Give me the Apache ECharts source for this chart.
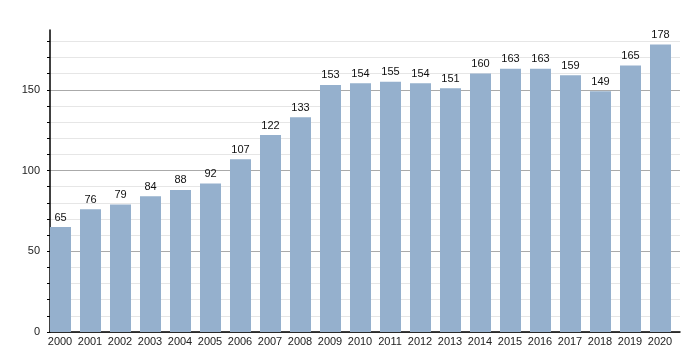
<!DOCTYPE html>
<html><head><meta charset="utf-8">
<script src="https://cdn.jsdelivr.net/npm/echarts@6/dist/echarts.min.js"></script>
<style>html,body{margin:0;padding:0;background:#fff}#c{width:700px;height:350px}</style>
</head><body><div id="c"></div>
<script>
const years = ['2000','2001','2002','2003','2004','2005','2006','2007','2008','2009','2010','2011','2012','2013','2014','2015','2016','2017','2018','2019','2020'];
const values = [65,76,79,84,88,92,107,122,133,153,154,155,154,151,160,163,163,159,149,165,178];
const yTickLabels = [0,50,100,150];
const yTicks = [0,10,20,30,40,50,60,70,80,90,100,110,120,130,140,150,160,170,180];

const gridColors = [];
for (let i = 0; i < 20; i++) gridColors.push(i % 5 === 0 ? '#aaaaaa' : '#e6e6e6');
gridColors[19] = 'rgba(0,0,0,0)';

const chart = echarts.init(document.getElementById('c'), null, {renderer:'canvas'});
chart.setOption({
  animation: false,
  grid: {left: 50, top: 30, width: 630, bottom: 18, containLabel: false},
  xAxis: {
    type: 'category', data: years,
    axisLine: {show: true, lineStyle: {color: '#000', width: 1.5}},
    axisTick: {show: false},
    axisLabel: {color: '#222', fontSize: 11, fontFamily: 'Liberation Sans, Arial, sans-serif', margin: 4, padding: [0, 10, 0, 0], interval: 0}
  },
  yAxis: {
    type: 'value', min: 0, max: 187, interval: 10,
    axisLine: {show: true, lineStyle: {color: '#000', width: 1.5}},
    axisTick: {show: true, length: 3, inside: false, customValues: yTicks, lineStyle: {color: '#000'}},
    axisLabel: {color: '#222', fontSize: 11, fontFamily: 'Liberation Sans, Arial, sans-serif', margin: 10,
      formatter: v => yTickLabels.indexOf(v) >= 0 ? String(v) : ''},
    splitLine: {show: true, lineStyle: {color: gridColors, width: 1}}
  },
  series: [
    {
      type: 'bar', data: values, barWidth: 21, barGap: '0%', barCategoryGap: '0%',
      itemStyle: {color: '#95b0cd'},
      label: {show: true, position: 'top', distance: 4, color: '#111', fontSize: 11, fontFamily: 'Liberation Sans, Arial, sans-serif'}
    },
    {
      type: 'bar', data: values.map(() => 0), barWidth: 9, silent: true,
      itemStyle: {color: 'rgba(0,0,0,0)'}
    }
  ]
});
</script></body></html>
